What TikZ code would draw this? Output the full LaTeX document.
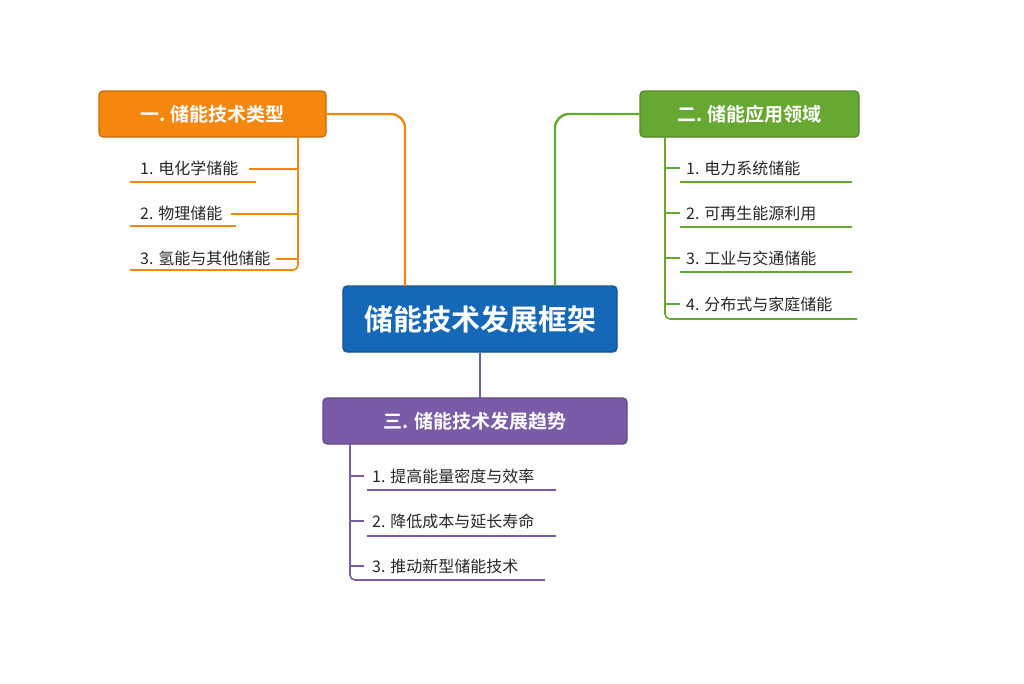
\documentclass[tikz,border=0pt]{standalone}
\usepackage{fontspec}
\newfontfamily\cjk{Noto Sans CJK SC}
\newfontfamily\cjkb{Noto Sans CJK SC Bold}
\definecolor{cor}{HTML}{F5870F}
\definecolor{cgr}{HTML}{67A832}
\definecolor{cpu}{HTML}{7A5BA8}
\definecolor{cbl}{HTML}{1568B8}
\begin{document}
\begin{tikzpicture}[x=1pt,y=-1pt,
  box/.style={draw=#1!80!black,fill=#1,rounded corners=4pt,line width=1.2pt,text=white,inner sep=0pt,font=\cjkb\fontsize{19}{19}\selectfont},
  leaf/.style={anchor=west,inner sep=0pt,text=black!85,font=\cjk\fontsize{16}{16}\selectfont},
  ln/.style={draw=#1,line width=1.6pt,rounded corners=5pt}]
\useasboundingbox (0,0) rectangle (1024,683);
% central
\node[box=cbl,minimum width=274pt,minimum height=66pt,font=\cjkb\fontsize{29}{29}\selectfont] (c) at (480,319) {储能技术发展框架};
\node[box=cor,minimum width=227pt,minimum height=46pt] (o) at (212.5,114) {一. 储能技术类型};
\node[box=cgr,minimum width=219pt,minimum height=46pt] (g) at (749.5,114) {二. 储能应用领域};
\node[box=cpu,minimum width=304pt,minimum height=46pt] (p) at (475,421) {三. 储能技术发展趋势};
% main connectors
\draw[ln=cor,line width=2.4pt,rounded corners=14pt] (o.east) -- (405,114) -- (405,286);
\draw[ln=cgr,line width=2.4pt,rounded corners=14pt] (g.west) -- (555,114) -- (555,286);
\draw[ln=cpu,line width=2.4pt] (c.south) -- (480,398);
% orange leaves
\node[leaf] (o1) at (140,168) {1. 电化学储能};
\node[leaf] (o2) at (140,213) {2. 物理储能};
\node[leaf] (o3) at (140,258) {3. 氢能与其他储能};
\coordinate (ov) at (298,137);
\draw[ln=cor] (ov) -- (298,270) -- (130,270);
\draw[ln=cor] (130,182) -- (256,182);
\draw[ln=cor] (130,226) -- (236,226);
\draw[ln=cor] (o1.east)++(10,1) -- (298,169);
\draw[ln=cor] (o2.east)++(8,1) -- (298,214);
\draw[ln=cor] (o3.east)++(5,1) -- (298,259);
% green leaves
\node[leaf] (g1) at (686,168) {1. 电力系统储能};
\node[leaf] (g2) at (686,213) {2. 可再生能源利用};
\node[leaf] (g3) at (686,258) {3. 工业与交通储能};
\node[leaf] (g4) at (686,304) {4. 分布式与家庭储能};
\draw[ln=cgr] (665,137) -- (665,319) -- (857,319);
\foreach \y in {168,213,258,304} \draw[ln=cgr] (665,\y) -- (680,\y);
\foreach \y in {182,227,272} \draw[ln=cgr] (680,\y) -- (852,\y);
% purple leaves
\node[leaf] (p1) at (372,476) {1. 提高能量密度与效率};
\node[leaf] (p2) at (372,521) {2. 降低成本与延长寿命};
\node[leaf] (p3) at (372,566) {3. 推动新型储能技术};
\draw[ln=cpu] (350,444) -- (350,580) -- (545,580);
\foreach \y in {476,521,566} \draw[ln=cpu] (350,\y) -- (364,\y);
\foreach \y in {490,536} \draw[ln=cpu] (367,\y) -- (556,\y);
\end{tikzpicture}
\end{document}
